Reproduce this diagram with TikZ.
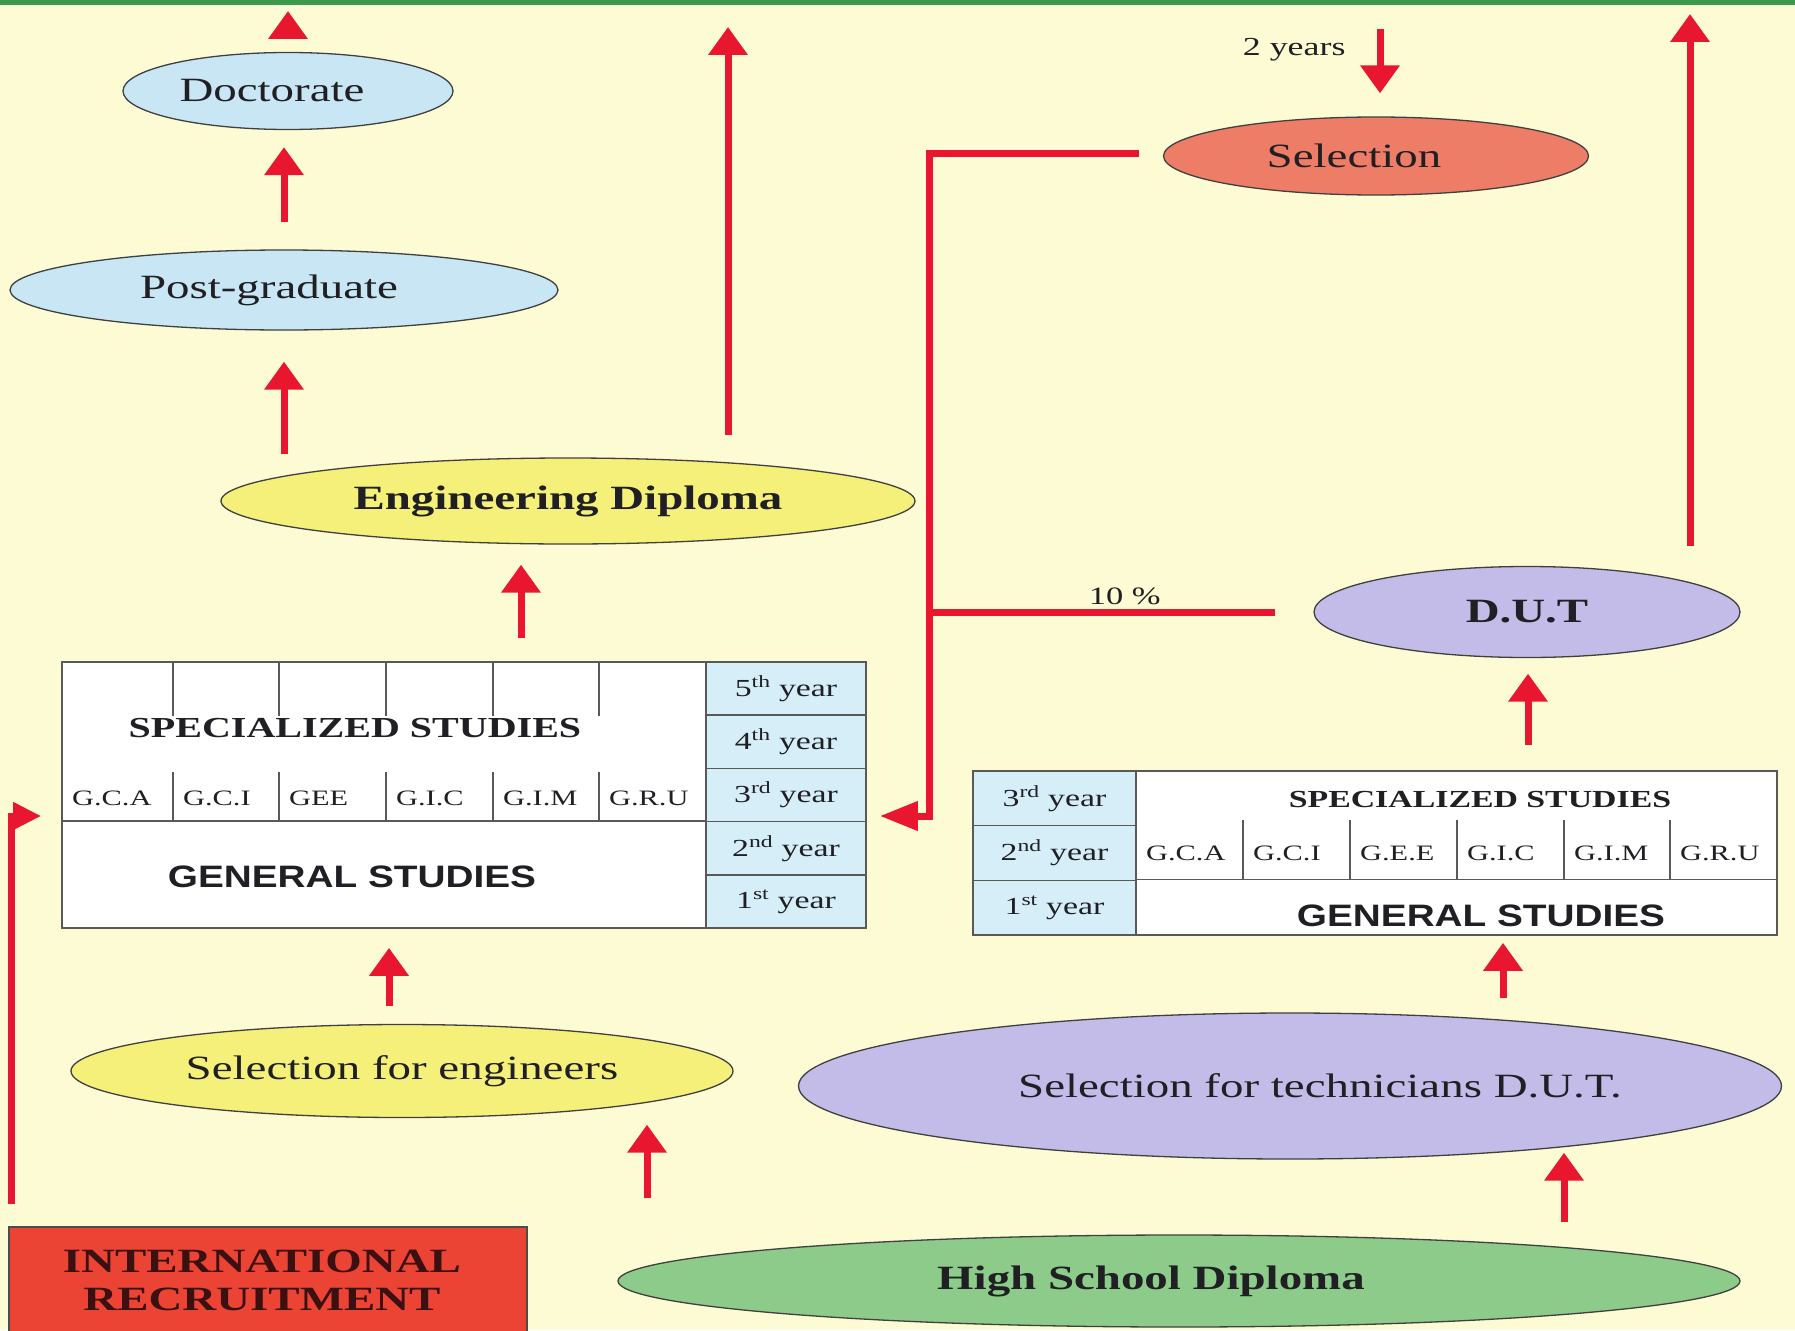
\documentclass[tikz,border=0pt]{standalone}
\usepackage{fontspec}
\setmainfont{Liberation Serif}[FakeStretch=1.38]
\newfontfamily\gensans{Liberation Sans}[FakeStretch=1.25]
\usetikzlibrary{arrows.meta,shapes.geometric,calc}

\definecolor{paper}{HTML}{FDFBD3}
\definecolor{band}{HTML}{3C9A4C}
\definecolor{arrowred}{HTML}{E8172F}
\definecolor{skyblue}{HTML}{C9E6F4}
\definecolor{lemon}{HTML}{F4F07A}
\definecolor{salmon}{HTML}{EE7D68}
\definecolor{lilac}{HTML}{C3BCE8}
\definecolor{mint}{HTML}{8DCB8A}
\definecolor{intlred}{HTML}{EC4434}
\definecolor{yearblue}{HTML}{D6EEF8}
\definecolor{ink}{HTML}{1F1F24}
\definecolor{darkred}{HTML}{3A1010}

\begin{document}
\begin{tikzpicture}[x=1pt, y=-1pt, >={Triangle[length=28pt,width=38pt]}, line join=miter, text=ink]
    \tikzstyle{oval}=[ellipse, draw=black!75, line width=1.3pt, inner sep=0pt, font=\fontsize{34}{40}\selectfont]
    \tikzstyle{flow}=[->, draw=arrowred, line width=7pt]
    \tikzstyle{tabcell}=[rectangle, draw=black!65, line width=1.6pt, inner sep=0pt]
    \tikzstyle{tline}=[draw=black!65, line width=1.6pt]
    \tikzstyle{yearcell}=[tabcell, fill=yearblue, font=\fontsize{24.5}{28}\selectfont]
    \tikzstyle{branch}=[anchor=west, inner sep=0pt, font=\fontsize{22}{26}\selectfont]
    \tikzstyle{spec}=[inner sep=0pt, font=\bfseries]
    \tikzstyle{gen}=[inner sep=0pt, font=\gensans\bfseries\fontsize{31}{36}\selectfont]
    \tikzstyle{note}=[inner sep=0pt, font=\fontsize{26}{30}\selectfont]

    \useasboundingbox (0,0) rectangle (1795,1330);
    \fill[paper] (0,0) rectangle (1795,1330);
    \fill[band] (0,0) rectangle (1795,5);

    % degrees
    \node[oval, fill=skyblue, minimum width=330pt, minimum height=77pt] (doc) at (288,91) {\hspace*{-32pt}Doctorate};
    \node[oval, fill=skyblue, minimum width=548pt, minimum height=80pt] (post) at (284,290) {\hspace*{-30pt}Post-graduate};
    \node[oval, fill=lemon, minimum width=694pt, minimum height=86pt, font=\bfseries\fontsize{34}{40}\selectfont] (eng) at (568,501) {Engineering Diploma};
    \node[oval, fill=salmon, minimum width=425pt, minimum height=78pt] (sel) at (1376,156) {\hspace*{-44pt}Selection};
    \node[oval, fill=lilac, minimum width=426pt, minimum height=91pt, font=\bfseries\fontsize{34}{40}\selectfont] (dut) at (1527,612) {D.U.T};

    % engineering school
    \node[tabcell, fill=white, minimum width=804pt, minimum height=266pt] (tabL) at (464,795) {};
    \foreach \n/\s [count=\i] in {5/th,4/th,3/rd,2/nd,1/st}
      \node[yearcell, minimum width=160pt, minimum height=53.2pt] (yL\i) at (786,635.4+53.2*\i) {\n\textsuperscript{\s} year};
    \draw[tline] (tabL.west |- yL4.north) -- (yL4.north west);
    \foreach \x in {173,279,386,493,599} {
      \draw[tline] (\x,662) -- (\x,716);
      \draw[tline] (\x,772) -- (\x,821.6);
    }
    \foreach \x/\t [count=\i] in {62/G.C.A,173/G.C.I,279/GEE,386/G.I.C,493/G.I.M,599/G.R.U}
      \node[branch] (gL\i) at (\x+10,798) {\t};
    \node[spec, font=\bfseries\fontsize{29}{34}\selectfont] (specL) at (355,728) {SPECIALIZED STUDIES};
    \node[gen] (genL) at (352,877) {GENERAL STUDIES};

    % technicians school
    \node[tabcell, fill=white, minimum width=804pt, minimum height=164pt] (tabR) at (1375,853) {};
    \foreach \n/\s [count=\i] in {3/rd,2/nd,1/st}
      \node[yearcell, minimum width=163pt, minimum height=54.67pt] (yR\i) at (1054.5,743.67+54.67*\i) {\n\textsuperscript{\s} year};
    \draw[tline] (yR3.north east) -- (tabR.east |- yR3.north);
    \foreach \x in {1243,1350,1457,1564,1670}
      \draw[tline] (\x,820) -- (\x,880.3);
    \foreach \x/\t [count=\i] in {1136/G.C.A,1243/G.C.I,1350/G.E.E,1457/G.I.C,1564/G.I.M,1670/G.R.U}
      \node[branch] (gR\i) at (\x+10,853) {\t};
    \node[spec, font=\bfseries\fontsize{24.5}{28}\selectfont] (specR) at (1480,799) {SPECIALIZED STUDIES};
    \node[gen] (genR) at (1481,916) {GENERAL STUDIES};

    % entry
    \node[oval, fill=lemon, minimum width=662pt, minimum height=93pt] (selE) at (402,1071) {Selection for engineers};
    \node[oval, fill=lilac, minimum width=983pt, minimum height=146pt] (selT) at (1290,1086) {\hspace*{60pt}Selection for technicians D.U.T.};
    \node[oval, fill=mint, minimum width=1122pt, minimum height=92pt, font=\bfseries\fontsize{34}{40}\selectfont] (hsd) at (1179,1281) {\hspace*{-56pt}High School Diploma};
    \node[rectangle, draw=black!70, line width=1.3pt, fill=intlred, minimum width=518pt, minimum height=106pt, align=center, text=darkred, font=\bfseries\fontsize{34}{38}\selectfont] (intl) at (268,1280) {\hspace*{-12pt}INTERNATIONAL\\\hspace*{-12pt}RECRUITMENT};

    \coordinate (topA) at (288,11);
    \coordinate (topB) at (728,27);
    \coordinate (topC) at (1690,14);
    \coordinate (twoy) at (1380,29);
    \coordinate (jn) at (929,612);

    \draw[flow] ([yshift=12.5pt]doc.north) -- (topA);
    \draw[flow] ([yshift=27pt]post.north) -- ([xshift=-4pt,yshift=-17pt]doc.south);
    \draw[flow] ([xshift=-284pt,yshift=3pt]eng.north) -- ([yshift=-31pt]post.south);
    \draw[flow] ([xshift=160pt,yshift=22pt]eng.north) -- (topB);
    \draw[flow] ([xshift=57pt,yshift=23pt]tabL.north) -- ([xshift=-47pt,yshift=-20pt]eng.south);
    \draw[flow] ([xshift=-13pt,yshift=17.5pt]selE.north) -- ([xshift=-75pt,yshift=-19pt]tabL.south);
    \draw[flow] ([xshift=-532pt,yshift=36pt]hsd.north) -- ([xshift=245pt,yshift=-6.5pt]selE.south);
    \draw[flow] ([xshift=213pt,yshift=14pt]selT.north) -- ([xshift=128pt,yshift=-7pt]tabR.south);
    \draw[flow] ([xshift=385pt,yshift=12pt]hsd.north) -- ([xshift=274pt,yshift=7pt]selT.south);
    \draw[flow] ([xshift=153pt,yshift=25pt]tabR.north) -- ([xshift=1pt,yshift=-15.5pt]dut.south);
    \draw[flow] ([xshift=163pt,yshift=19.5pt]dut.north) -- (topC);
    \draw[flow] (twoy) -- ([xshift=4pt,yshift=23pt]sel.north) node[note, pos=0.32, left=31pt] (twoyears) {2 years};

    % bridge from D.U.T
    \draw[flow, -] ([xshift=-38pt]dut.west) -- (jn) node[note, pos=0.435, above=4pt, font=\fontsize{25}{30}\selectfont] (pct) {10 \%};
    \draw[flow, -{Triangle[length=38pt,width=28pt]}] ([xshift=-24pt,yshift=3pt]sel.west) -| (jn) |- ([xshift=13pt,yshift=-21pt]tabL.east);
    \draw[flow, -{Triangle[length=28pt,width=26pt]}] ([xshift=3pt,yshift=22pt]intl.north west) |- ([xshift=-20pt,yshift=-21pt]tabL.west);
\end{tikzpicture}
\end{document}
